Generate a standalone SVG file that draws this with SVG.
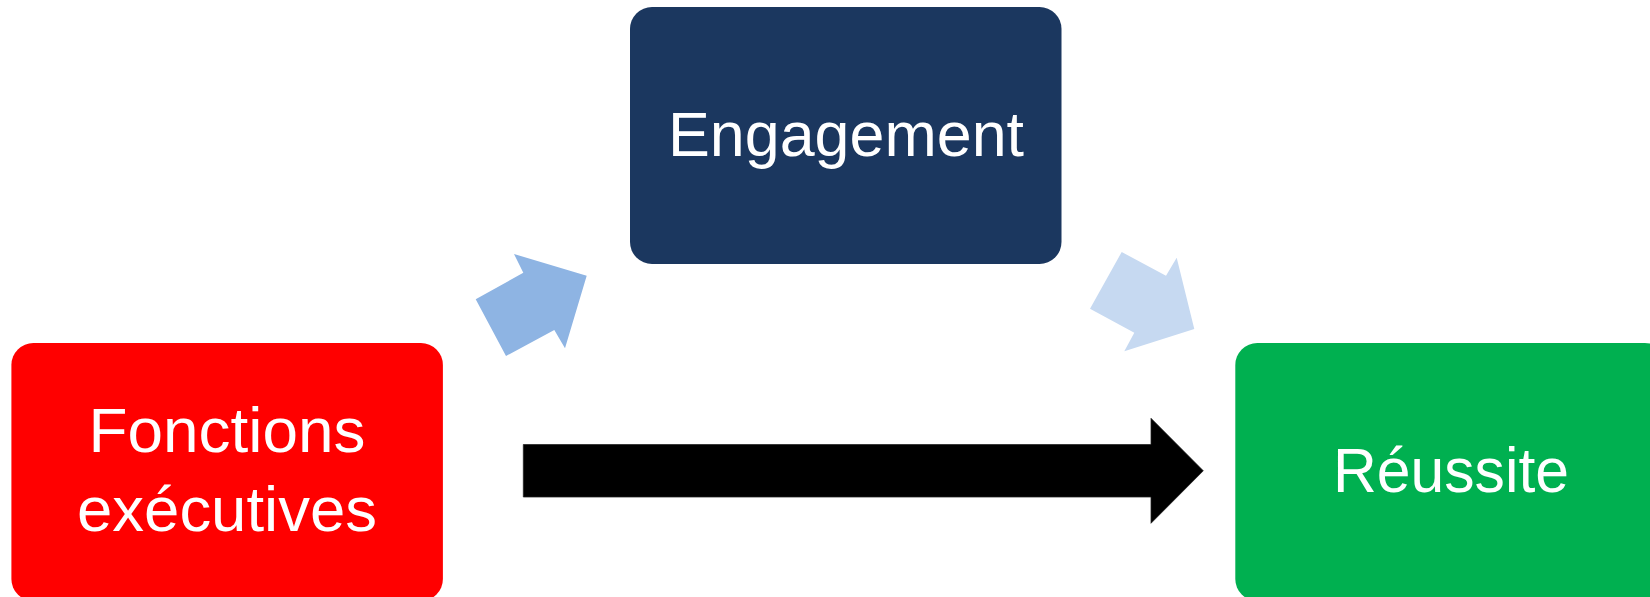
<svg xmlns="http://www.w3.org/2000/svg" width="1650" height="597" viewBox="0 0 1650 597">
<style>
.box{stroke:none}
.lbl{font-family:"Liberation Sans",Arial,sans-serif;font-size:63px;fill:#FFFFFF;text-anchor:middle}
</style>
<rect width="1650" height="597" fill="#FFFFFF"/>
<g id="connectors">
<polygon id="arrow-fe-eng" points="475.7,299.3 523.3,272.7 514,254 586.7,275.7 565,348.3 554.3,330 506,356" fill="#8EB4E3"/>
<polygon id="arrow-eng-reu" points="1121.7,252 1166,275.7 1176.7,257.7 1194.3,329 1124.3,351.3 1134.3,332.7 1090,308.7" fill="#C6D9F1"/>
<path id="arrow-fe-reu" d="M523.3,444.5 H1151 V418.3 L1203.3,470.8 L1151,523.3 V497 H523.3 Z" fill="#000000" stroke="#222222" stroke-width="0.75"/>
</g>
<g id="node-fonctions">
<rect class="box" x="11.4" y="343" width="431.5" height="258" rx="22" ry="22" fill="#FF0000"/>
<text class="lbl" x="227" y="452" textLength="277" lengthAdjust="spacingAndGlyphs">Fonctions</text>
<text class="lbl" x="227" y="531" textLength="300" lengthAdjust="spacingAndGlyphs">exécutives</text>
</g>
<g id="node-engagement">
<rect class="box" x="630" y="7" width="431.5" height="257" rx="22" ry="22" fill="#1B375F"/>
<text class="lbl" x="846" y="155.7" textLength="356" lengthAdjust="spacingAndGlyphs">Engagement</text>
</g>
<g id="node-reussite">
<rect class="box" x="1235.3" y="343" width="431.5" height="258" rx="22" ry="22" fill="#00B050"/>
<text class="lbl" x="1451" y="491.7" textLength="236" lengthAdjust="spacingAndGlyphs">Réussite</text>
</g>
</svg>
